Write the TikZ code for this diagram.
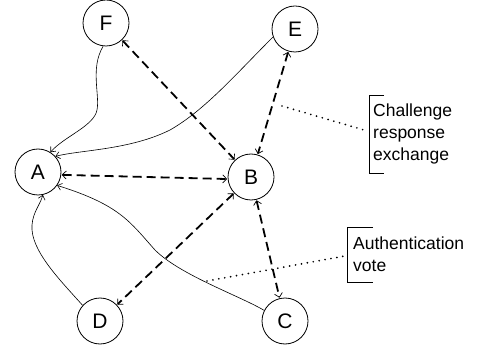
\documentclass[tikz,border=0pt]{standalone}
\usepackage{fontspec}
\setmainfont{Liberation Sans}
\usetikzlibrary{arrows.meta}
\begin{document}
\begin{tikzpicture}[x=1pt,y=-1pt,
  state/.style={circle,draw,line width=0.8pt,minimum size=46pt,inner sep=0pt,font=\fontsize{21}{25}\selectfont},
  thinarrow/.style={line width=0.6pt,-{Straight Barb[length=4pt,width=7pt,line width=0.6pt]}},
  dasharrow/.style={line width=1.8pt,dash pattern=on 9pt off 5pt,{Straight Barb[length=4pt,width=8pt,line width=0.7pt]}-{Straight Barb[length=4pt,width=8pt,line width=0.7pt]},shorten <=0.5pt,shorten >=0.5pt},
  pointer/.style={line width=1.9pt,dash pattern=on 0pt off 6pt,line cap=round},
  bracket/.style={line width=0.6pt},
  lbl/.style={anchor=base west,inner sep=0pt,font=\fontsize{17.5}{21}\selectfont}]
\useasboundingbox (0,0) rectangle (481,352);
\node[state] (F) at (106,23) {F};
\node[state] (E) at (295,29) {E};
\node[state] (A) at (38,172) {A};
\node[state] (B) at (251,177) {B};
\node[state] (D) at (100,321) {D};
\node[state] (C) at (285,321) {C};
% thin solid curves into A
\draw[thinarrow] (F.263) .. controls (90,68) and (100,95) .. (97,110) .. controls (94,126) and (65,136) .. (A.58);
\draw[thinarrow] (E.200) .. controls (235,75) and (205,110) .. (170,130) .. controls (130,150) and (80,150) .. (A.42);
\draw[thinarrow] (D.138) .. controls (60,280) and (30,250) .. (32,225) .. controls (33,212) and (40,205) .. (A.282);
\draw[thinarrow] (C.153) .. controls (240,296) and (180,275) .. (155,250) .. controls (130,222) and (120,205) .. (A.325);
% dashed exchanges
\draw[dasharrow] (A.-7) -- (B.185);
\draw[dasharrow] (F) -- (B);
\draw[dasharrow] (E) -- (B);
\draw[dasharrow] (B) -- (C);
\draw[dasharrow] (B) -- (D);
% labels
\node[lbl] (l1) at (373,117) {Challenge};
\node[lbl] (l2) at (373,139) {response};
\node[lbl] (l3) at (373,161) {exchange};
\draw[bracket] (384,95) -- (369,95) -- (369,173) -- (384,173);
\node[lbl] (m1) at (353,250) {Authentication};
\node[lbl] (m2) at (353,271) {vote};
\draw[bracket] (373,227) -- (347,227) -- (347,282) -- (373,282);
\coordinate (p1) at (282,106);
\coordinate (p2) at (364,130);
\coordinate (q1) at (207,281);
\coordinate (q2) at (345,256);
\draw[pointer] (p1) -- (p2);
\draw[pointer] (q1) -- (q2);
\end{tikzpicture}
\end{document}
